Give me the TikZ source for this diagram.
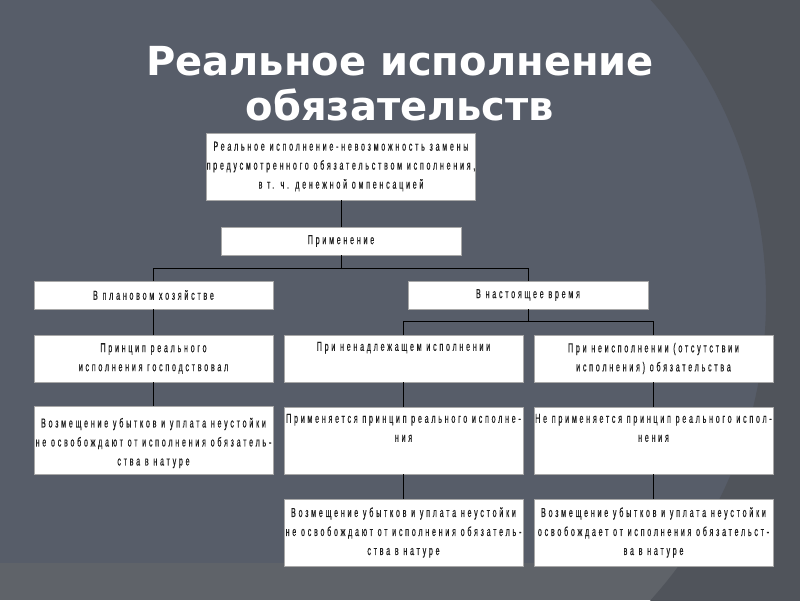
\documentclass[tikz,border=0pt]{standalone}
\usepackage{fontspec}
\newfontfamily\ttlfnt{DejaVu Sans}
\newfontfamily\boxfnt[FakeStretch=0.55,LetterSpace=21,FakeBold=0.3]{Liberation Sans}
\definecolor{bgmain}{HTML}{575D69}
\definecolor{bgdark}{HTML}{50545B}
\definecolor{bgbottom}{HTML}{5F6369}
\definecolor{boxedge}{HTML}{A8A8A8}
\definecolor{txtcol}{HTML}{1E1E1E}
\tikzset{
  box/.style={draw=boxedge, fill=white, line width=0.6pt, inner sep=0pt, minimum width=239pt},
  txt/.style={font=\boxfnt\fontsize{13}{19}\selectfont, text=txtcol, align=center, inner sep=0pt},
  conn/.style={draw=black, line width=0.8pt},
  ttl/.style={font=\ttlfnt\bfseries\fontsize{40}{45}\selectfont, text=white, inner sep=0pt, anchor=base}
}
\begin{document}
\begin{tikzpicture}[x=1pt,y=-1pt]
\useasboundingbox (0,0) rectangle (800,600);
% background
\fill[bgmain] (0,0) rectangle (800,600);
\fill[bgbottom] (0,563) rectangle (800,600);
\begin{scope}
  \clip (0,0) rectangle (800,600);
  \fill[bgdark, even odd rule] (-10,-10) rectangle (810,610) (318,300) circle[radius=448pt];
\end{scope}
% title
\node[ttl] (title1) at (400,75) {Реальное исполнение};
\node[ttl] (title2) at (400,120) {обязательств};
% boxes
\node[box, minimum width=269pt, minimum height=67pt] (b1) at (341,166.5) {};
\node[box, minimum width=240pt, minimum height=28pt] (b2) at (341,241) {};
\node[box, minimum height=28pt] (b3) at (153.5,295) {};
\node[box, minimum width=240pt, minimum height=28pt] (b4) at (528,295) {};
\node[box, minimum height=47pt] (b5) at (153.5,358.5) {};
\node[box, minimum height=47pt] (b6) at (403.5,358.5) {};
\node[box, minimum height=47pt] (b7) at (653.5,358.5) {};
\node[box, minimum height=68pt] (b8) at (153.5,440) {};
\node[box, minimum height=67pt] (b9) at (403.5,440.5) {};
\node[box, minimum height=67pt] (b10) at (653.5,440.5) {};
\node[box, minimum height=67pt] (b11) at (403.5,532.5) {};
\node[box, minimum height=67pt] (b12) at (653.5,532.5) {};
% texts
\node[txt] (t1) at (b1.center) {Реальное исполнение-невозможность замены\\предусмотренного обязательством исполнения,\\в т. ч. денежной омпенсацией};
\node[txt] (t2) at (b2.center) {Применение};
\node[txt] (t3) at (b3.center) {В плановом хозяйстве};
\node[txt] (t4) at (b4.center) {В настоящее время};
\node[txt] (t5) at (b5.center) {Принцип реального\\исполнения господствовал};
\node[txt, anchor=north] (t6) at ([yshift=-7pt]b6.north) {При ненадлежащем исполнении};
\node[txt] (t7) at (b7.center) {При неисполнении (отсутствии\\исполнения) обязательства};
\node[txt] (t8) at ([yshift=-3pt]b8.center) {Возмещение убытков и уплата неустойки\\не освобождают от исполнения обязатель-\\ства в натуре};
\node[txt, anchor=north] (t9) at ([yshift=-7pt]b9.north) {Применяется принцип реального исполне-\\ния};
\node[txt, anchor=north] (t10) at ([yshift=-7pt]b10.north) {Не применяется принцип реального испол-\\нения};
\node[txt] (t11) at (b11.center) {Возмещение убытков и уплата неустойки\\не освобождают от исполнения обязатель-\\ства в натуре};
\node[txt] (t12) at (b12.center) {Возмещение убытков и уплата неустойки\\освобождает от исполнения обязательст-\\ва в натуре};
% connectors
\coordinate (j1) at (341,268);
\coordinate (j2) at (528,321);
\draw[conn] (b1.south) -- (b2.north);
\draw[conn] (b2.south) -- (j1);
\draw[conn] (j1) -| (b3.north);
\draw[conn] (j1) -| (b4.north);
\draw[conn] (b3.south) -- (b5.north);
\draw[conn] (b5.south) -- (b8.north);
\draw[conn] (b4.south) -- (j2);
\draw[conn] (j2) -| (b6.north);
\draw[conn] (j2) -| (b7.north);
\draw[conn] (b6.south) -- (b9.north);
\draw[conn] (b9.south) -- (b11.north);
\draw[conn] (b7.south) -- (b10.north);
\draw[conn] (b10.south) -- (b12.north);
\end{tikzpicture}
\end{document}
